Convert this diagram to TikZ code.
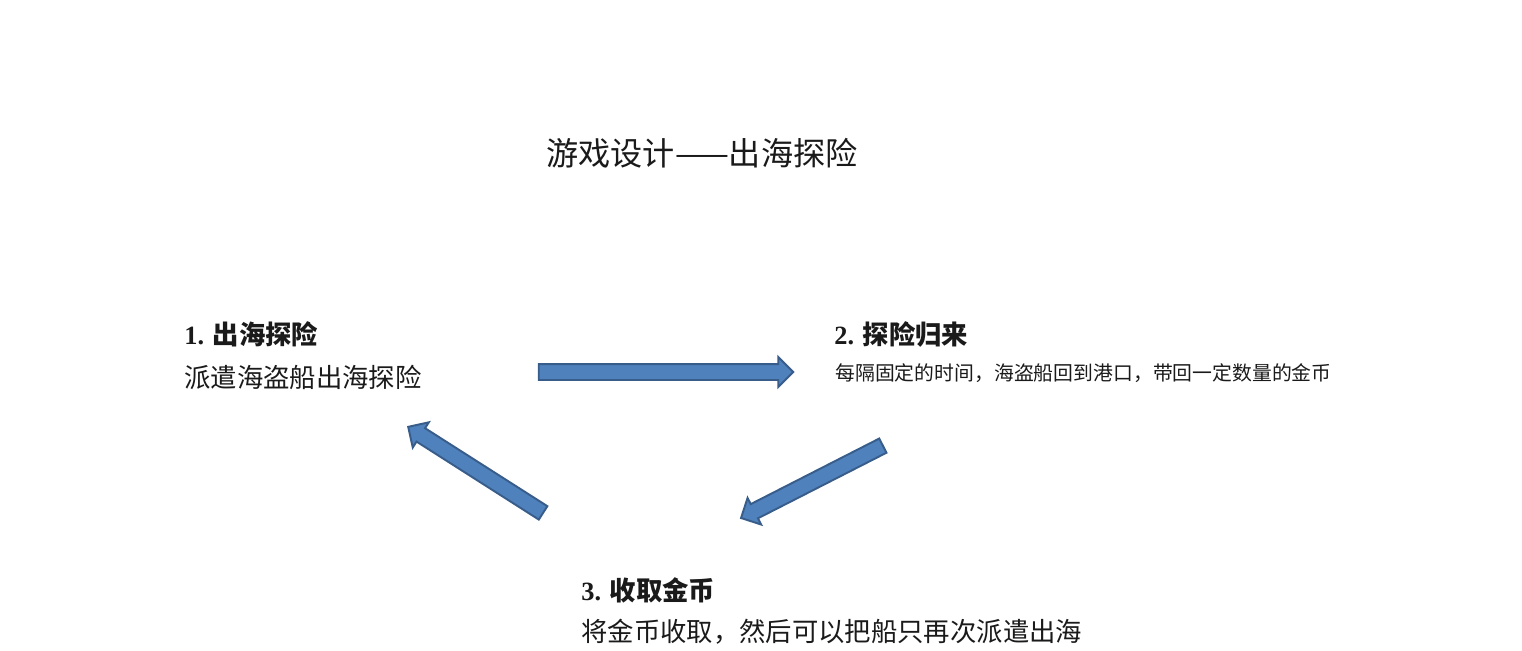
\documentclass[tikz,border=0pt]{standalone}
\usepackage{fontspec}
\setmainfont{Liberation Serif}
\newfontfamily\cjk{Noto Sans CJK SC}
\usetikzlibrary{shapes.arrows,calc}
\definecolor{arrowfill}{HTML}{4F81BD}
\definecolor{arrowline}{HTML}{385D8A}
\definecolor{textdark}{HTML}{1A1A1A}
\tikzset{
  title/.style={inner sep=0pt,text=textdark,font=\fontsize{18.3}{21}\selectfont\cjk},
  stage head/.style={anchor=west,inner sep=0pt,text=textdark,
    font=\fontsize{15}{18}\selectfont\bfseries},
  stage text/.style={anchor=west,inner sep=0pt,text=textdark,
    font=\fontsize{15}{18}\selectfont\cjk},
  small text/.style={stage text,font=\fontsize{11.3}{14}\selectfont\cjk},
  flow arrow/.style={single arrow,draw=arrowline,fill=arrowfill,line width=1.1pt,
    inner xsep=0pt,inner ysep=0.14cm,outer sep=0pt,
    single arrow head extend=0.14cm,single arrow head indent=0pt}
}
% block arrow from tail #1 to tip #2, named #3
\newcommand{\flowarrow}[3]{%
  \path let \p1=($(#2)-(#1)$), \n1={atan2(\y1,\x1)}, \n2={veclen(\x1,\y1)-2pt} in
    node[flow arrow,minimum height=\n2,rotate=\n1] (#3) at ($(#1)!0.5!(#2)$) {};}

\begin{document}
\begin{tikzpicture}[x=0.02cm,y=-0.02cm]
  \useasboundingbox (0,0) rectangle (1522,650);
  \node[title] (title) at (702,153) {游戏设计——出海探险};
  % the three stages
  \node[stage head] (head1) at (184,334) {1. {\cjk 出海探险}};
  \node[stage text] (text1) at (184,377) {派遣海盗船出海探险};
  \node[stage head] (head2) at (834,334) {2. {\cjk 探险归来}};
  \node[small text] (text2) at (835,373) {每隔固定的时间，海盗船回到港口，带回一定数量的金币};
  \node[stage head] (head3) at (581,590) {3. {\cjk 收取金币}};
  \node[stage text] (text3) at (581,632) {将金币收取，然后可以把船只再次派遣出海};
  % arrow ends
  \coordinate (t12) at (533,372);
  \coordinate (h12) at (791,372);
  \coordinate (t23) at (888,443);
  \coordinate (h23) at (743,517);
  \coordinate (t31) at (548,516);
  \coordinate (h31) at (410,428);
  \flowarrow{t12}{h12}{arrow12}
  \flowarrow{t23}{h23}{arrow23}
  \flowarrow{t31}{h31}{arrow31}
\end{tikzpicture}
\end{document}
